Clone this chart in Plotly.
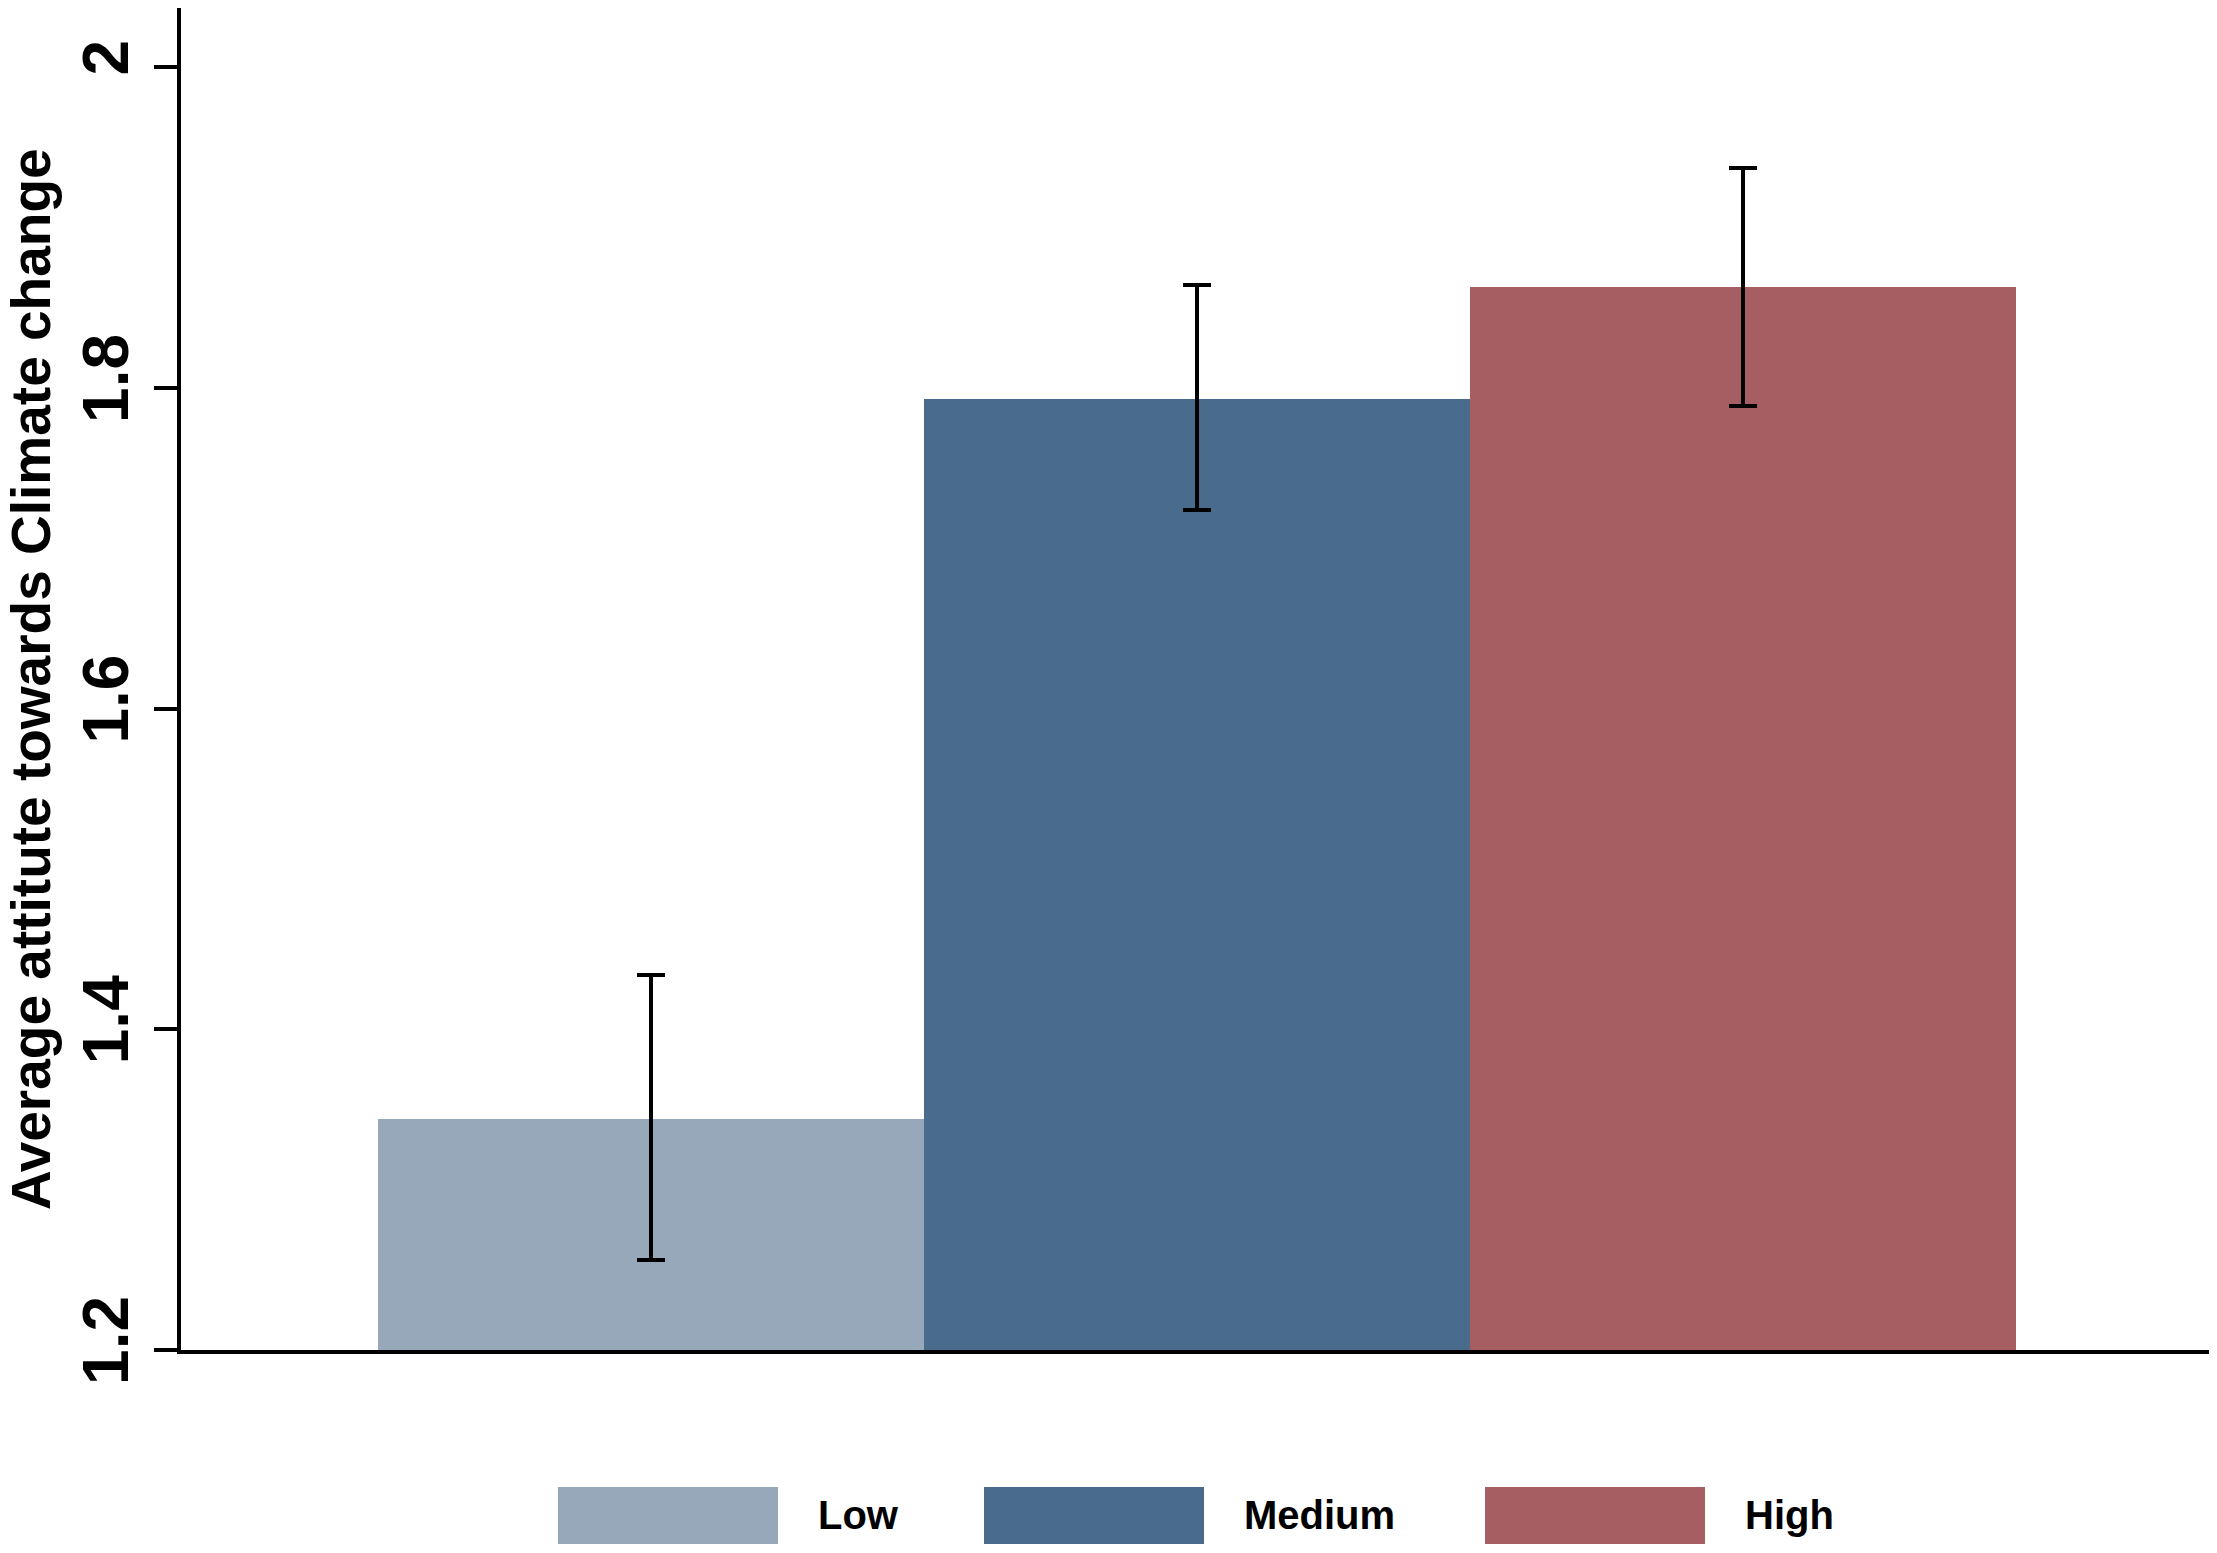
import plotly.graph_objects as go

categories = ["Low", "Medium", "High"]
means = [1.344, 1.793, 1.863]
ci_upper = [1.434, 1.864, 1.937]
ci_lower = [1.256, 1.724, 1.789]
colors = ["#96a8b9", "#496c8c", "#a65e62"]
y_ticks = [1.2, 1.4, 1.6, 1.8, 2.0]
y_ticklabels = ["1.2", "1.4", "1.6", "1.8", "2"]
y_title = "Average attitute towards Climate change"

err_plus = [u - m for u, m in zip(ci_upper, means)]
err_minus = [m - l for m, l in zip(means, ci_lower)]

fig = go.Figure()
fig.add_trace(go.Bar(
    x=list(range(len(categories))),
    y=means,
    width=1.0,
    marker=dict(color=colors, line=dict(width=0)),
    error_y=dict(type="data", symmetric=False, array=err_plus, arrayminus=err_minus,
                 color="black", thickness=4, width=14),
    showlegend=False,
))

OFF = 8  # page body margin
W, H = 2217 - OFF, 1553 - OFF
ml, mr, mt, mb = 181 - OFF, 8, 0, 203
pw = W - ml - mr
ph = H - mt - mb
plot_left_screen = ml + OFF
plot_bottom_screen = OFF + mt + ph

def px_to_paper_x(px):
    return (px - plot_left_screen) / pw

def px_to_paper_y(py):
    return (plot_bottom_screen - py) / ph

# Manual legend (large swatches)
leg_box_left_px = [558, 984, 1485]
box_w_px = 220
box_top_px, box_bot_px = 1487, 1544
text_gap_px = 38
for i, cat in enumerate(categories):
    x0 = px_to_paper_x(leg_box_left_px[i])
    x1 = px_to_paper_x(leg_box_left_px[i] + box_w_px)
    y0 = px_to_paper_y(box_bot_px)
    y1 = px_to_paper_y(box_top_px)
    fig.add_shape(type="rect", xref="paper", yref="paper", x0=x0, x1=x1, y0=y0, y1=y1,
                  fillcolor=colors[i], line=dict(width=0))
    fig.add_annotation(xref="paper", yref="paper",
                       x=px_to_paper_x(leg_box_left_px[i] + box_w_px + text_gap_px),
                       y=(y0 + y1) / 2, text=cat, showarrow=False,
                       xanchor="left", yanchor="middle",
                       font=dict(family="Liberation Sans, Arial", size=40, color="black",
                                 weight="bold"))

# Y axis title
fig.add_annotation(xref="paper", yref="paper", x=px_to_paper_x(31), y=0.5,
                   text=y_title, textangle=-90, showarrow=False,
                   xanchor="center", yanchor="middle",
                   font=dict(family="Liberation Sans, Arial", size=55, color="black", weight="bold"))

# x-axis line overhang left of y axis
fig.add_shape(type="line", xref="paper", yref="paper", x0=-23 / pw, x1=0, y0=0, y1=0,
              line=dict(color="black", width=4))

fig.update_layout(
    width=W, height=H,
    margin=dict(l=ml, r=mr, t=mt, b=mb),
    paper_bgcolor="white", plot_bgcolor="white",
    bargap=0,
    xaxis=dict(range=[-0.86, 2.854], showticklabels=False, ticks="", showgrid=False,
               zeroline=False, showline=True, linecolor="black", linewidth=4),
    yaxis=dict(range=[1.2, 2.037], tickvals=y_ticks, ticktext=y_ticklabels, tickangle=-90,
               ticks="outside", ticklen=23, tickwidth=4, tickcolor="black",
               ticklabelstandoff=0,
               showgrid=False, zeroline=False, showline=True, linecolor="black", linewidth=4,
               tickfont=dict(family="Liberation Sans, Arial", size=64, color="black", weight="bold")),
)

fig.write_html("out.html")
